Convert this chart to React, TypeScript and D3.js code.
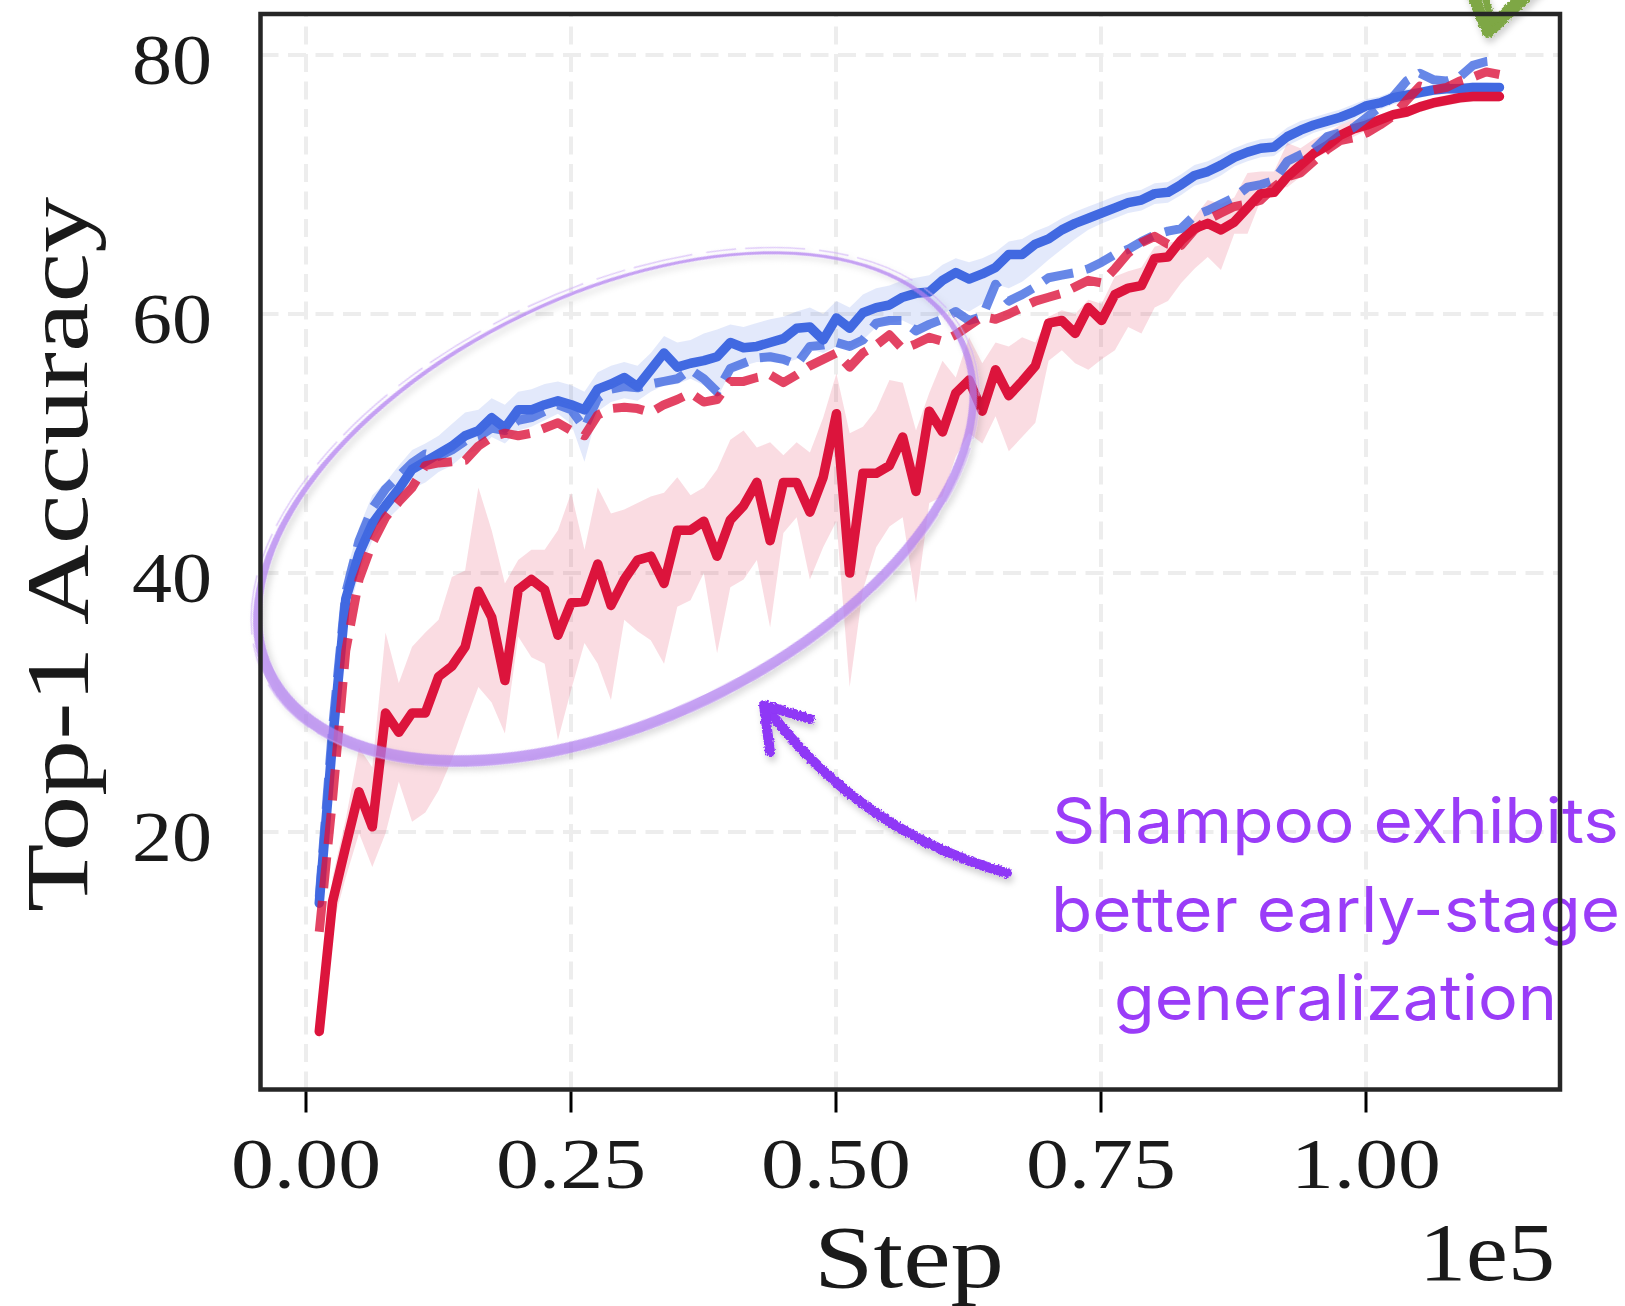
import React from "react";
import * as d3 from "d3";

const STEPS_PER_EPOCH = 1251;
const EPOCHS = d3.range(1, 91);

const X_TICKS = [0, 25000, 50000, 75000, 100000];
const X_TICK_LABELS = ["0.00", "0.25", "0.50", "0.75", "1.00"];
const Y_TICKS = [20, 40, 60, 80];
const Y_TICK_LABELS = ["20", "40", "60", "80"];

const BLUE_SOLID = [14.5,27,38,41.5,43.8,45.2,46.5,48.0,48.6,49.2,49.8,50.6,51.0,52.0,51.2,52.6,52.6,53.0,53.3,53.0,52.6,54.2,54.6,55.1,54.4,55.7,57.0,55.9,56.2,56.4,56.7,57.8,57.4,57.5,57.8,58.1,58.9,59.0,58.0,59.7,58.9,60.1,60.5,60.7,61.3,61.6,61.7,62.6,63.2,62.7,63.1,63.6,64.6,64.6,65.4,65.8,66.5,67.0,67.4,67.8,68.2,68.6,68.8,69.3,69.4,70.0,70.7,71.0,71.5,72.1,72.5,72.8,72.9,73.7,74.2,74.6,74.9,75.2,75.6,76.1,76.3,76.7,76.9,77.1,77.3,77.4,77.4,77.5,77.5,77.5];
const BLUE_UPPER = [15.5,29,40,43.5,46,47,48.3,49.5,50,50.6,51.5,52.4,52.6,53.5,53.0,54.0,54.2,54.6,54.8,54.5,54.0,55.5,56.0,56.3,56.0,57.0,58.3,57.8,58.0,58.5,58.8,59.2,59.0,59.3,59.6,59.8,60.2,60.5,60.0,61.0,60.5,61.5,62.0,62.2,62.6,62.8,63.0,63.8,64.3,64.0,64.3,64.8,65.6,65.8,66.4,66.8,67.4,67.9,68.3,68.7,69.1,69.4,69.6,70.1,70.2,70.8,71.5,71.8,72.3,72.8,73.2,73.5,73.6,74.4,74.9,75.2,75.5,75.8,76.2,76.6,76.8,77.2,77.4,77.5,77.7,77.8,77.8,77.9,77.9,77.8];
const BLUE_LOWER = [13.8,25,36,40,42.5,44,45,46.5,47,47.8,48.3,49.2,49.5,50.5,50.0,51.0,51.3,51.8,52.3,51.5,48.6,52.5,53.2,53.5,53.3,54.0,54.5,54.6,55.0,54.5,53.5,55.5,56.0,56.3,56.3,56.2,56.5,57.3,57.0,57.5,57.3,58.0,59.0,59.3,59.5,59.0,59.5,60.0,60.5,60.2,60.8,62.3,62.0,62.5,63.3,64.2,65.0,65.8,66.5,67.0,67.4,67.8,68.0,68.5,68.6,69.2,69.9,70.2,70.7,71.4,71.8,72.1,72.2,73.0,73.5,74.0,74.3,74.6,75.0,75.6,75.8,76.2,76.4,76.7,76.9,77.0,77.0,77.1,77.1,77.2];
const BLUE_DASHED = [15.0,28,38.5,42.5,45.0,46.5,47.5,48.5,49.2,49.0,49.5,50.2,50.5,51.2,51.0,51.8,52.0,52.5,53.0,52.6,51.2,53.5,54.2,54.4,54.3,54.6,54.8,55.0,55.7,55.0,54.0,55.8,56.2,56.6,56.7,56.5,56.1,57.5,57.6,57.8,57.5,58.0,59.3,59.5,59.5,58.7,59.2,59.6,60.2,59.5,59.8,62.3,61.0,61.5,62.1,62.8,63.0,63.2,63.5,64.0,64.6,65.0,65.6,66.1,66.4,66.6,67.6,68.0,68.5,69.0,69.8,70.0,70.3,71.8,72.3,72.7,73.7,74.0,74.4,75.2,76.0,76.8,78.0,78.6,78.1,78.0,78.3,79.2,79.5,79.6];
const RED_SOLID = [4.6,14.6,18.9,23.1,20.4,29.2,27.7,29.2,29.2,32.0,32.8,34.3,38.6,36.6,31.7,38.7,39.5,38.7,35.2,37.7,37.8,40.7,37.5,39.5,41.0,41.3,39.2,43.3,43.3,44.0,41.3,44.1,45.2,47.0,42.5,47.0,47.0,44.7,47.4,52.3,40.0,47.7,47.7,48.3,50.5,46.3,52.5,50.9,53.9,54.9,52.5,55.7,53.7,54.8,56.0,59.3,59.5,58.5,60.5,59.5,61.5,62.0,62.2,64.3,64.4,65.7,66.6,67.0,66.5,67.1,68.2,69.3,69.4,70.6,71.5,72.4,73.0,73.8,74.3,74.6,75.0,75.4,75.6,76.0,76.3,76.5,76.7,76.8,76.8,76.8];
const RED_UPPER = [5.3,16.5,21,26.5,25,35.4,31.5,34.3,35.4,36.4,39.7,40.2,46.6,43.3,39.2,41.0,41.8,41.8,43.3,46.2,41.8,46.6,44.6,44.9,45.4,45.9,46.2,47.4,46.0,46.6,48.0,50.3,51.0,49.7,50.1,49.1,50.1,49.3,52.0,55.4,50.8,51.3,52.6,54.9,54.7,51.0,53.9,56.4,55.1,58.2,56.2,57.8,57.5,58.2,57.8,59.8,60.3,60.0,61.1,60.8,62.9,63.3,63.6,65.2,65.5,65.7,67.5,68.8,68.5,69.0,70.9,71.0,71.0,73.2,72.8,73.5,74.0,74.6,75.0,75.1,75.4,75.8,76.0,76.4,76.7,76.9,77.1,77.2,77.2,77.2];
const RED_LOWER = [3.9,12.7,16.5,19.9,17.3,19.9,23.9,20.8,21.5,23.2,25.6,28.5,31.2,30.0,27.6,35.1,33.5,33.0,27.1,31.0,34.6,33.0,30.2,36.4,35.5,34.8,33.0,37.4,37.9,40.0,33.8,38.9,39.5,41.0,35.8,43.1,44.3,39.5,42.0,44.0,31.2,38.7,42.0,43.6,44.3,37.7,45.4,45.9,49.0,50.8,50.0,52.1,49.4,50.5,51.6,56.4,57.2,56.2,55.7,56.5,57.2,59.0,58.5,60.5,61.0,62.4,63.5,64.4,63.4,66.2,66.2,68.8,69.8,69.8,70.6,72.0,72.5,73.2,73.7,74.2,74.6,75.0,75.2,75.6,75.9,76.1,76.3,76.4,76.4,76.4];
const RED_DASHED = [12.3,22.5,34,39.5,42.3,44.3,45.5,46.6,48.3,48.5,48.6,48.7,49.8,50.5,50.8,50.6,50.8,51.2,51.6,51.0,50.6,52.2,52.7,52.8,52.7,52.4,53.0,53.4,53.9,53.2,53.4,54.8,54.8,55.1,55.3,54.7,55.3,56.0,56.5,57.0,55.9,57.0,57.6,58.4,57.3,57.7,58.2,57.9,58.4,59.1,59.8,59.6,60.0,60.5,61.0,61.3,61.6,62.1,62.6,62.4,63.5,64.7,65.5,66.0,65.4,65.3,66.5,67.3,67.8,68.3,68.5,68.8,69.8,70.6,70.9,71.8,72.7,73.4,73.6,74.0,74.6,75.3,76.5,77.6,77.3,77.5,78.0,78.3,78.7,78.5];

const ANNOTATION_LINES = ["Shampoo exhibits", "better early-stage", "generalization"];

const BLUE = "#4169e1";
const RED = "#dc143c";
const PURPLE_TEXT = "#9a3cf8";

export default function App() {
  const W = 1625, H = 1306;
  const L = 260.5, R = 1560, T = 14, B = 1089.5;
  const x = d3.scaleLinear().domain([-4292, 118302]).range([L, R]);
  const y = d3.scaleLinear().domain([0.116, 83.17]).range([B, T]);
  const sx = (i: number) => x(EPOCHS[i] * STEPS_PER_EPOCH);

  const line = (vals: number[]) =>
    d3.line<number>().x((_, i) => sx(i)).y((v) => y(v))(vals) || "";
  const area = (lo: number[], hi: number[]) =>
    d3.area<number>().x((_, i) => sx(i)).y0((_, i) => y(lo[i])).y1((v) => y(v))(hi) || "";

  const ell = (rx: number, ry: number, cx: number, cy: number) =>
    `M${cx - rx},${cy} A${rx},${ry} 0 1,0 ${cx + rx},${cy} A${rx},${ry} 0 1,0 ${cx - rx},${cy} Z`;
  const crescent = ell(388, 216.5, 0, 0) + " " + ell(379.5, 209.5, 2.5, -3.5);

  const serif = "'Liberation Serif', 'DejaVu Serif', serif";

  return (
    <svg width={W} height={H} style={{ position: "absolute", left: 0, top: 0, background: "#fff" }}
      xmlns="http://www.w3.org/2000/svg">
      <defs>
        <filter id="shadow" x="-10%" y="-10%" width="120%" height="130%">
          <feDropShadow dx="2" dy="5" stdDeviation="3" floodColor="#000" floodOpacity="0.18" />
        </filter>
        <filter id="rough" x="-20%" y="-40%" width="140%" height="180%">
          <feTurbulence type="fractalNoise" baseFrequency="0.45" numOctaves="2" seed="3" result="n" />
          <feDisplacementMap in="SourceGraphic" in2="n" scale="4" xChannelSelector="R" yChannelSelector="G" result="d" />
          <feDropShadow dx="2" dy="5" stdDeviation="3" floodColor="#000" floodOpacity="0.18" />
        </filter>
      </defs>

      {/* grid */}
      <g stroke="#ededed" strokeWidth={4} strokeDasharray="18,9.5">
        {X_TICKS.map((t) => (
          <line key={"gx" + t} x1={x(t)} x2={x(t)} y1={B} y2={T} />
        ))}
        {Y_TICKS.map((t) => (
          <line key={"gy" + t} x1={L} x2={R} y1={y(t)} y2={y(t)} />
        ))}
      </g>

      {/* bands */}
      <path d={area(BLUE_LOWER, BLUE_UPPER)} fill={BLUE} fillOpacity={0.15} />
      <path d={area(RED_LOWER, RED_UPPER)} fill={RED} fillOpacity={0.15} />

      {/* lines */}
      <path d={line(BLUE_SOLID)} fill="none" stroke={BLUE} strokeWidth={9.5} strokeLinejoin="round" strokeLinecap="round" />
      <path d={line(RED_SOLID)} fill="none" stroke={RED} strokeWidth={9.5} strokeLinejoin="round" strokeLinecap="round" />
      <path d={line(BLUE_DASHED)} fill="none" stroke={BLUE} strokeOpacity={0.8} strokeWidth={9} strokeDasharray="31,13" strokeLinejoin="round" />
      <path d={line(RED_DASHED)} fill="none" stroke={RED} strokeOpacity={0.8} strokeWidth={9} strokeDasharray="31,13" strokeLinejoin="round" />

      {/* ellipse annotation */}
      <g transform="translate(615,509) rotate(-25.7)" filter="url(#shadow)">
        <path d={crescent} fill="#b280f0" fillOpacity={0.72} fillRule="evenodd" />
        <ellipse cx={1} cy={-2} rx={390} ry={218} fill="none" stroke="#c9a6f5" strokeOpacity={0.6} strokeWidth={1.5} strokeDasharray="60,14,30,9" />
      </g>

      {/* arrow */}
      <g filter="url(#rough)" stroke="#8f37f6" strokeWidth={10} fill="none" strokeLinecap="round" strokeLinejoin="round">
        <path d="M1007,873 Q860,832 766,707" />
        <path d="M810,719 L764,705 L770,752" />
      </g>

      {/* check mark (cut at top) */}
      <g filter="url(#rough)" stroke="#7ea744" strokeWidth={12} fill="none" strokeLinecap="round" strokeLinejoin="round">
        <path d="M1464,-26 L1488,32 L1552,-28" />
        <path d="M1482,-12 L1493,22 L1530,-14" strokeWidth={7} />
      </g>

      {/* annotation text */}
      <g fill={PURPLE_TEXT} fontFamily="Inter, 'Open Sans', sans-serif" fontSize={63} textAnchor="middle">
        <text x={1335.5} y={843} textLength={567} lengthAdjust="spacingAndGlyphs">{ANNOTATION_LINES[0]}</text>
        <text x={1335.5} y={932} textLength={569} lengthAdjust="spacingAndGlyphs">{ANNOTATION_LINES[1]}</text>
        <text x={1335.5} y={1020} textLength={443} lengthAdjust="spacingAndGlyphs">{ANNOTATION_LINES[2]}</text>
      </g>

      {/* frame */}
      <rect x={L} y={T} width={R - L} height={B - T} fill="none" stroke="#262626" strokeWidth={4.5} />

      {/* x ticks */}
      <g stroke="#000" strokeWidth={3}>
        {X_TICKS.map((t) => (
          <line key={"tx" + t} x1={x(t)} x2={x(t)} y1={B + 2} y2={B + 23} />
        ))}
      </g>
      <g fontFamily={serif} fontSize={72} fill="#1a1a1a" textAnchor="middle">
        {X_TICKS.map((t, i) => (
          <text key={"lx" + t} x={x(t)} y={1188} textLength={150} lengthAdjust="spacingAndGlyphs">{X_TICK_LABELS[i]}</text>
        ))}
      </g>
      <g fontFamily={serif} fontSize={72} fill="#1a1a1a" textAnchor="end">
        {Y_TICKS.map((t, i) => (
          <text key={"ly" + t} x={212} y={y(t) + 29} textLength={80} lengthAdjust="spacingAndGlyphs">{Y_TICK_LABELS[i]}</text>
        ))}
      </g>

      {/* axis labels */}
      <text x={909} y={1287} fontFamily={serif} fontSize={88} fill="#1a1a1a" textAnchor="middle" textLength={190} lengthAdjust="spacingAndGlyphs">Step</text>
      <text x={1555} y={1280} fontFamily={serif} fontSize={82} fill="#1a1a1a" textAnchor="end" textLength={136} lengthAdjust="spacingAndGlyphs">1e5</text>
      <text transform="translate(87,554.5) rotate(-90)" fontFamily={serif} fontSize={88} fill="#1a1a1a" textAnchor="middle" textLength={715} lengthAdjust="spacingAndGlyphs">Top-1 Accuracy</text>
    </svg>
  );
}
